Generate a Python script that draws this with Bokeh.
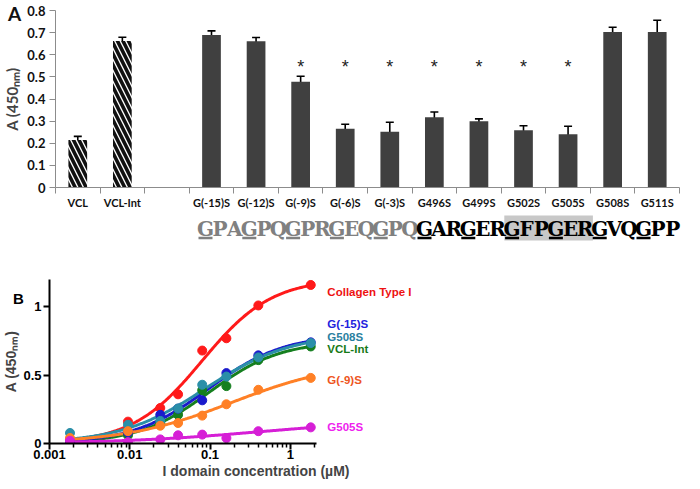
import numpy as np
from bokeh.plotting import figure
from bokeh.models import (ColumnDataSource, Whisker, TeeHead, FixedTicker, Range1d,
                          NumeralTickFormatter, Div)
from bokeh.core.properties import value
from bokeh.embed import file_html
from bokeh.resources import INLINE

# ---------------- Panel A data ----------------
bar_labels = ["VCL", "VCL-Int", "", "G(-15)S", "G(-12)S", "G(-9)S", "G(-6)S", "G(-3)S",
              "G496S", "G499S", "G502S", "G505S", "G508S", "G511S"]
bar_values = [0.215, 0.662, None, 0.689, 0.661, 0.478, 0.266, 0.252,
              0.318, 0.300, 0.259, 0.241, 0.703, 0.703]
bar_errors = [0.016, 0.017, None, 0.019, 0.017, 0.025, 0.020, 0.043,
              0.023, 0.010, 0.020, 0.036, 0.021, 0.053]
bar_kind = ["hatched", "hatched", "none", "solid", "solid", "solid", "solid", "solid",
            "solid", "solid", "solid", "solid", "solid", "solid"]
significant = [False, False, False, False, False, True, True, True,
               True, True, True, True, False, False]
asterisk_level = 0.545

seq_nterm = "GPAGPQGPRGEQGPQ"
seq_core = "GARGERGFPGERGVQGPP"
seq_highlight = "GFPGER"

# ---------------- Panel B data ----------------
conc = [0.0018, 0.0095, 0.024, 0.04, 0.08, 0.16, 0.4, 1.8]
series_names = ["Collagen Type I", "VCL-Int", "G(-15)S", "G508S", "G(-9)S", "G505S"]
collagen = [0.03, 0.16, 0.26, 0.36, 0.68, 0.77, 1.01, 1.16]
vcl_int = [0.01, 0.06, 0.15, 0.21, 0.39, 0.42, 0.61, 0.71]
g_15 = [0.01, 0.08, 0.21, 0.255, 0.316, 0.515, 0.645, 0.74]
g508 = [0.077, 0.137, 0.165, 0.256, 0.43, 0.49, 0.63, 0.735]
g_9 = [0.04, 0.09, 0.13, 0.15, 0.204, 0.287, 0.393, 0.48]
g505 = [0.02, 0.01, 0.03, 0.06, 0.065, 0.04, 0.09, 0.118]
series_values = [collagen, vcl_int, g_15, g508, g_9, g505]
series_colors = ["#ff1a1a", "#157f1f", "#1a1acc", "#2a8fa8", "#ff8026", "#d61fd6"]
label_colors = {"Collagen Type I": "#ee1111", "G(-15)S": "#2222dd", "G508S": "#2a7f9f",
                "VCL-Int": "#177a17", "G(-9)S": "#ee5522", "G505S": "#ee22ee"}
label_order = ["Collagen Type I", "G(-15)S", "G508S", "VCL-Int", "G(-9)S", "G505S"]
label_y = [1.11, 0.874, 0.78, 0.688, 0.465, 0.12]
label_x = 2.9

TOPFONT = "Lato"
BOTFONT = "Liberation Sans"

# ================= Panel A figure =================
p1 = figure(width=684, height=211, x_range=Range1d(0, len(bar_labels)), y_range=Range1d(0, 0.8),
            output_backend="svg", toolbar_location=None, title=None,
            min_border_left=49, min_border_right=5, min_border_top=10, min_border_bottom=20)
p1.grid.visible = False
p1.outline_line_color = None

xs = [i + 0.5 for i in range(len(bar_labels))]
hat = dict(x=[], top=[])
sol = dict(x=[], top=[])
err = dict(x=[], upper=[], lower=[])
ast = dict(x=[], y=[], t=[])
for x, v, e, k, s in zip(xs, bar_values, bar_errors, bar_kind, significant):
    if v is None:
        continue
    d = hat if k == "hatched" else sol
    d["x"].append(x); d["top"].append(v)
    err["x"].append(x); err["upper"].append(v + e); err["lower"].append(v - e)
    if s:
        ast["x"].append(x); ast["y"].append(asterisk_level); ast["t"].append("*")

p1.vbar(x="x", top="top", width=0.42, source=ColumnDataSource(hat), fill_color="white",
        line_color=None, hatch_pattern="left_diagonal_line", hatch_color="#111111",
        hatch_weight=3.6, hatch_scale=11)
p1.vbar(x="x", top="top", width=0.42, source=ColumnDataSource(sol), fill_color="#404040",
        line_color=None)
esrc = ColumnDataSource(err)
p1.add_layout(Whisker(source=esrc, base="x", upper="upper", lower="lower", line_width=1.6,
                      line_color="black",
                      upper_head=TeeHead(size=8, line_width=1.6, line_color="black"),
                      lower_head=TeeHead(size=8, line_width=1.6, line_color="black")))
p1.text(x="x", y="y", text="t", source=ColumnDataSource(ast), text_align="center",
        text_baseline="middle", text_font_size="18px", text_font=value("Liberation Sans"),
        text_color="#222222")

xa = p1.xaxis[0]
xa.ticker = FixedTicker(ticks=xs, minor_ticks=list(range(len(bar_labels) + 1)))
xa.major_label_overrides = {x: lab for x, lab in zip(xs, bar_labels)}
xa.axis_line_color = "#8c8c8c"
xa.major_tick_out = 0
xa.major_tick_in = 0
xa.minor_tick_out = 6
xa.minor_tick_in = 0
xa.minor_tick_line_color = "#8c8c8c"
xa.major_label_text_font = TOPFONT
xa.major_label_text_font_style = "bold"
xa.major_label_text_font_size = "11px"
xa.major_label_text_color = "#111111"
xa.major_label_standoff = 2

ya = p1.yaxis[0]
ya.ticker = FixedTicker(ticks=[0, 0.1, 0.2, 0.3, 0.4, 0.5, 0.6, 0.7, 0.8], minor_ticks=[])
ya.major_label_overrides = {0: "0"}
ya.axis_line_color = "#8c8c8c"
ya.major_tick_line_color = "#8c8c8c"
ya.major_tick_out = 6
ya.major_tick_in = 0
ya.major_label_text_font = TOPFONT
ya.major_label_text_font_style = "bold"
ya.major_label_text_font_size = "13px"
ya.major_label_text_color = "#111111"
ya.major_label_standoff = 4
ya.axis_label = "A (450\u2099\u2098)"
ya.axis_label_text_font = TOPFONT
ya.axis_label_text_font_style = "bold"
ya.axis_label_text_font_size = "15px"
ya.axis_label_standoff = 3

# ================= Sequence strip =================
p2 = figure(width=684, height=34, x_range=Range1d(0, 684), y_range=Range1d(0, 34),
            output_backend="svg", toolbar_location=None, title=None, min_border=0,
            x_axis_type=None, y_axis_type=None)
p2.grid.visible = False
p2.outline_line_color = None

full_seq = seq_nterm + seq_core
step = 14.6
x0 = 205.0
cx = [x0 + i * step for i in range(len(full_seq))]
ccol = ["#808080"] * len(seq_nterm) + ["#000000"] * len(seq_core)
hl_start = len(seq_nterm) + seq_core.index(seq_highlight)
hl_end = hl_start + len(seq_highlight) - 1
p2.quad(left=[cx[hl_start] - step / 2 - 0.5], right=[cx[hl_end] + step / 2 + 0.5],
        bottom=[5], top=[30], fill_color="#c8c8c8", line_color=None)
p2.text(x=cx, y=[17] * len(full_seq), text=list(full_seq), text_color=ccol,
        text_align="center", text_baseline="middle", text_font=value("DejaVu Serif"),
        text_font_style="bold", text_font_size="20px")
ux = [i for i in range(len(full_seq)) if i % 3 == 0]
p2.segment(x0=[cx[i] - 7 for i in ux], x1=[cx[i] + 7 for i in ux], y0=[7.5] * len(ux),
           y1=[7.5] * len(ux), line_color=[ccol[i] for i in ux], line_width=2.5)

# ================= Panel B figure =================
x_end = 140.0
p3 = figure(width=684, height=236, x_axis_type="log", x_range=Range1d(0.001, x_end),
            y_range=Range1d(0, 1.2), output_backend="svg", toolbar_location=None, title=None,
            min_border_left=44, min_border_right=222, min_border_top=34, min_border_bottom=36)
p3.grid.visible = False
p3.outline_line_color = None


def fit_curve(x, y):
    x = np.asarray(x, float)
    y = np.asarray(y, float)
    lx = np.log10(x)
    le = np.arange(-3.0, 1.5, 0.01)
    hh = np.arange(0.5, 2.51, 0.02)
    LE, H = np.meshgrid(le, hh, indexing="ij")
    f = 1.0 / (1.0 + 10 ** ((LE[..., None] - lx) * H[..., None]))
    top = (f * y).sum(-1) / (f * f).sum(-1)
    res = ((top[..., None] * f - y) ** 2).sum(-1)
    i, j = np.unravel_index(np.argmin(res), res.shape)
    xg = np.logspace(lx.min(), lx.max(), 200)
    return xg, top[i, j] / (1.0 + 10 ** ((le[i] - np.log10(xg)) * hh[j]))


for name, vals, col in zip(series_names, series_values, series_colors):
    xg, yg = fit_curve(conc, vals)
    p3.line(xg, yg, line_color=col, line_width=3)
for name, vals, col in zip(series_names, series_values, series_colors):
    p3.scatter(conc, vals, size=9, fill_color=col, line_color=col)

p3.text(x=[label_x] * len(label_order), y=label_y, text=label_order,
        text_color=[label_colors[n] for n in label_order], text_baseline="middle",
        text_align="left", text_font=value(BOTFONT), text_font_style="bold",
        text_font_size="11.5px")

bx = p3.xaxis[0]
bx.bounds = (0.001, 2.1)
bx.ticker = FixedTicker(ticks=[0.001, 0.01, 0.1, 1],
                        minor_ticks=[m * d for d in [0.001, 0.01, 0.1, 1] for m in range(2, 10)
                                     if m * d <= 2.1])
bx.formatter = NumeralTickFormatter(format="0.[000]")
bx.axis_line_width = 2
bx.axis_line_color = "black"
bx.major_tick_line_width = 2
bx.major_tick_out = 6
bx.major_tick_in = 0
bx.minor_tick_line_width = 1.5
bx.minor_tick_out = 4
bx.minor_tick_in = 0
bx.major_label_text_font = BOTFONT
bx.major_label_text_font_style = "bold"
bx.major_label_text_font_size = "13px"
bx.major_label_text_color = "black"
bx.major_label_standoff = 0
bx.axis_label = "I domain concentration (\u00b5M)"
bx.axis_label_text_font = BOTFONT
bx.axis_label_text_font_style = "bold"
bx.axis_label_text_font_size = "14px"
bx.axis_label_standoff = 1

by = p3.yaxis[0]
by.ticker = FixedTicker(ticks=[0, 0.5, 1.0], minor_ticks=[])
by.axis_line_width = 2
by.axis_line_color = "black"
by.major_tick_line_width = 2
by.major_tick_out = 6
by.major_tick_in = 0
by.major_label_text_font = BOTFONT
by.major_label_text_font_style = "bold"
by.major_label_text_font_size = "13px"
by.major_label_text_color = "black"
by.major_label_standoff = 2
by.axis_label = "A (450\u2099\u2098)"
by.axis_label_text_font = BOTFONT
by.axis_label_text_font_style = "bold"
by.axis_label_text_font_size = "14px"
by.axis_label_standoff = 1

# ================= Panel letters =================
divA = Div(text="A", width=20, height=24,
           styles={"position": "absolute", "left": "3px", "top": "-3px", "font-family": TOPFONT,
                   "font-weight": "bold", "font-size": "19px", "color": "#111111",
                   "line-height": "24px"})
divB = Div(text="B", width=20, height=20,
           styles={"position": "absolute", "left": "8px", "top": "284px", "font-family": BOTFONT,
                   "font-weight": "bold", "font-size": "15px", "color": "#000000",
                   "line-height": "20px"})

open("out.html", "w").write(file_html([p1, p2, p3, divA, divB], INLINE))
